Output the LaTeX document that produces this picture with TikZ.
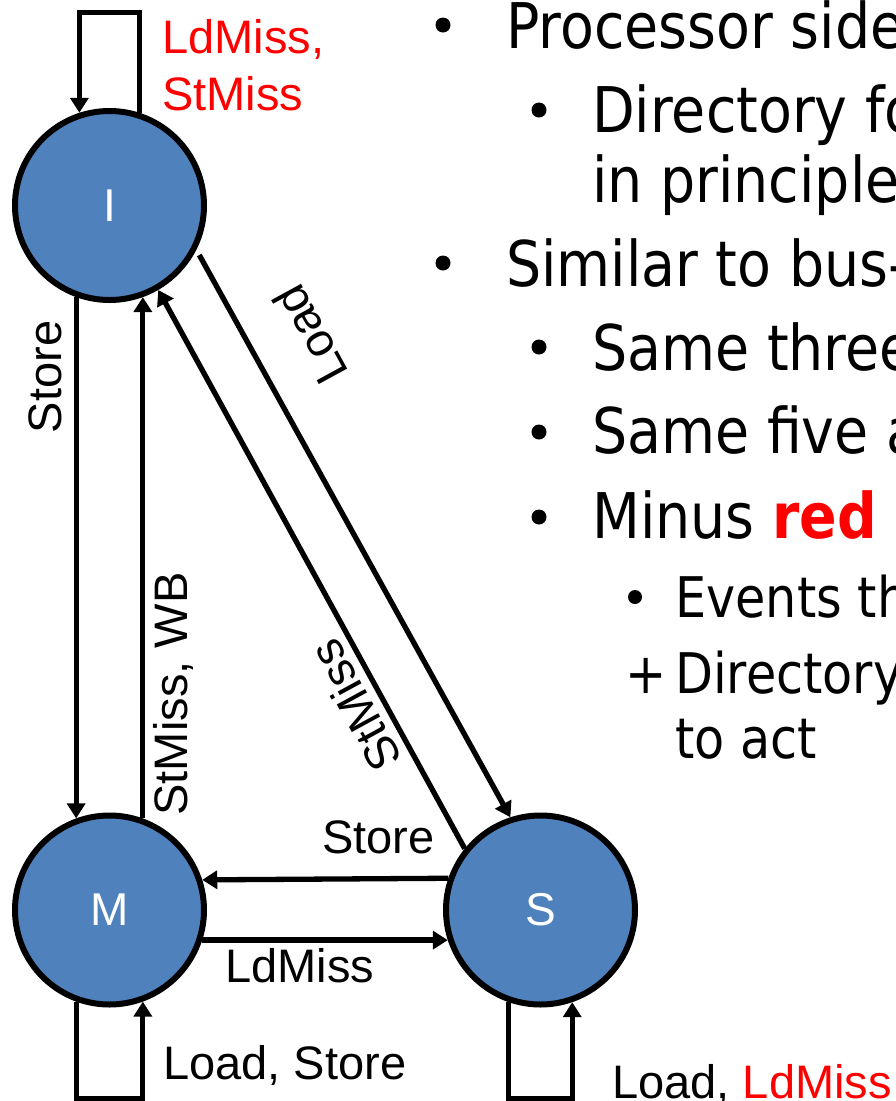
\documentclass[tikz,border=0pt]{standalone}
\usepackage{fontspec}
\setmainfont{Liberation Sans}
\newfontfamily\slidefont{DejaVu Sans}[FakeStretch=0.88]
\usetikzlibrary{arrows.meta}
\definecolor{stateblue}{RGB}{79,129,189}
\definecolor{hotred}{RGB}{255,0,0}

\begin{document}
\begin{tikzpicture}[x=1pt,y=-1pt,
  state/.style={circle,draw=black,line width=6pt,fill=stateblue,minimum size=189pt,
    inner sep=0pt,text=white,font=\fontsize{46}{46}\selectfont},
  arr/.style={line width=5.3pt,-{Triangle[length=15pt,width=18pt]}},
  lbl/.style={font=\fontsize{47}{47}\selectfont,inner sep=0pt},
  lblw/.style={lbl,anchor=base west},
  bodytext/.style={font=\slidefont\fontsize{63}{63}\selectfont,anchor=base west,inner sep=0pt},
  subtext/.style={font=\slidefont\fontsize{56}{56}\selectfont,anchor=base west,inner sep=0pt},
  bulletdot/.style={fill=black,circle,inner sep=0pt,minimum size=15pt}
]
\useasboundingbox (0,0) rectangle (896,1101);

% states
\node[state] (I) at (109.5,205.5) {I};
\node[state] (M) at (109.5,910) {M};
\node[state] (S) at (540.5,910) {S};

% transitions
\draw[arr] (I.72) -- ++(0,-100) -| (I.108);
\draw[arr] (I.250) -- (M.110);
\draw[arr] (M.70) -- (I.290);
\draw[arr,shorten <=6pt] (I.-27) -- (S.108);
\draw[arr] (S.141) -- (I.-60);
\draw[arr] (S.161.4) -- (M.18.6);
\draw[arr] (M.-18.6) -- (S.198.6);
\draw[arr] (M.250) -- ++(0,97) -| (M.290);
\draw[arr] (S.251) -- ++(0,96.5) -| (S.289.5);

% transition labels
\node[lblw,text=hotred] (lIa) at (162,53) {LdMiss,};
\node[lblw,text=hotred] (lIb) at (162,110) {StMiss};
\node[lbl,rotate=90] (lIM) at (45,377) {Store};
\node[lbl,rotate=90] (lMI) at (173,694) {StMiss, WB};
\node[lbl,rotate=118.6] (lIS) at (310,335) {Load};
\node[lbl,rotate=118.6] (lSI) at (355,706) {StMiss};
\node[lblw] (lSM) at (322,853) {Store};
\node[lblw] (lMS) at (225,982) {LdMiss};
\node[lblw] (lMM) at (163,1079) {Load, Store};
\node[lblw] (lSS) at (612,1098) {Load, \textcolor{hotred}{LdMiss}};

% bullet list
\node[bulletdot] (b1) at (443,25) {};
\node[bodytext] (t1) at (506,48) {Processor side};
\node[bulletdot] (b2) at (539,110) {};
\node[bodytext] (t2) at (592,132) {Directory fo};
\node[bodytext] (t3) at (592,202) {in principle};
\node[bulletdot] (b3) at (443,263) {};
\node[bodytext] (t4) at (506,286) {Similar to bus-};
\node[bulletdot] (b4) at (539,347) {};
\node[bodytext] (t5) at (592,370) {Same three};
\node[bulletdot] (b5) at (539,432) {};
\node[bodytext] (t6) at (592,453) {Same five a};
\node[bulletdot] (b6) at (539,517) {};
\node[bodytext] (t7) at (592,538) {Minus \textcolor{hotred}{\bfseries red}};
\node[bulletdot,minimum size=14pt] (b7) at (635,597) {};
\node[subtext] (t8) at (675,617) {Events th};
\node[subtext] (plus) at (625,693) {+};
\node[subtext] (t9) at (675,693) {Directory};
\node[subtext] (t10) at (675,758) {to act};
\end{tikzpicture}
\end{document}
